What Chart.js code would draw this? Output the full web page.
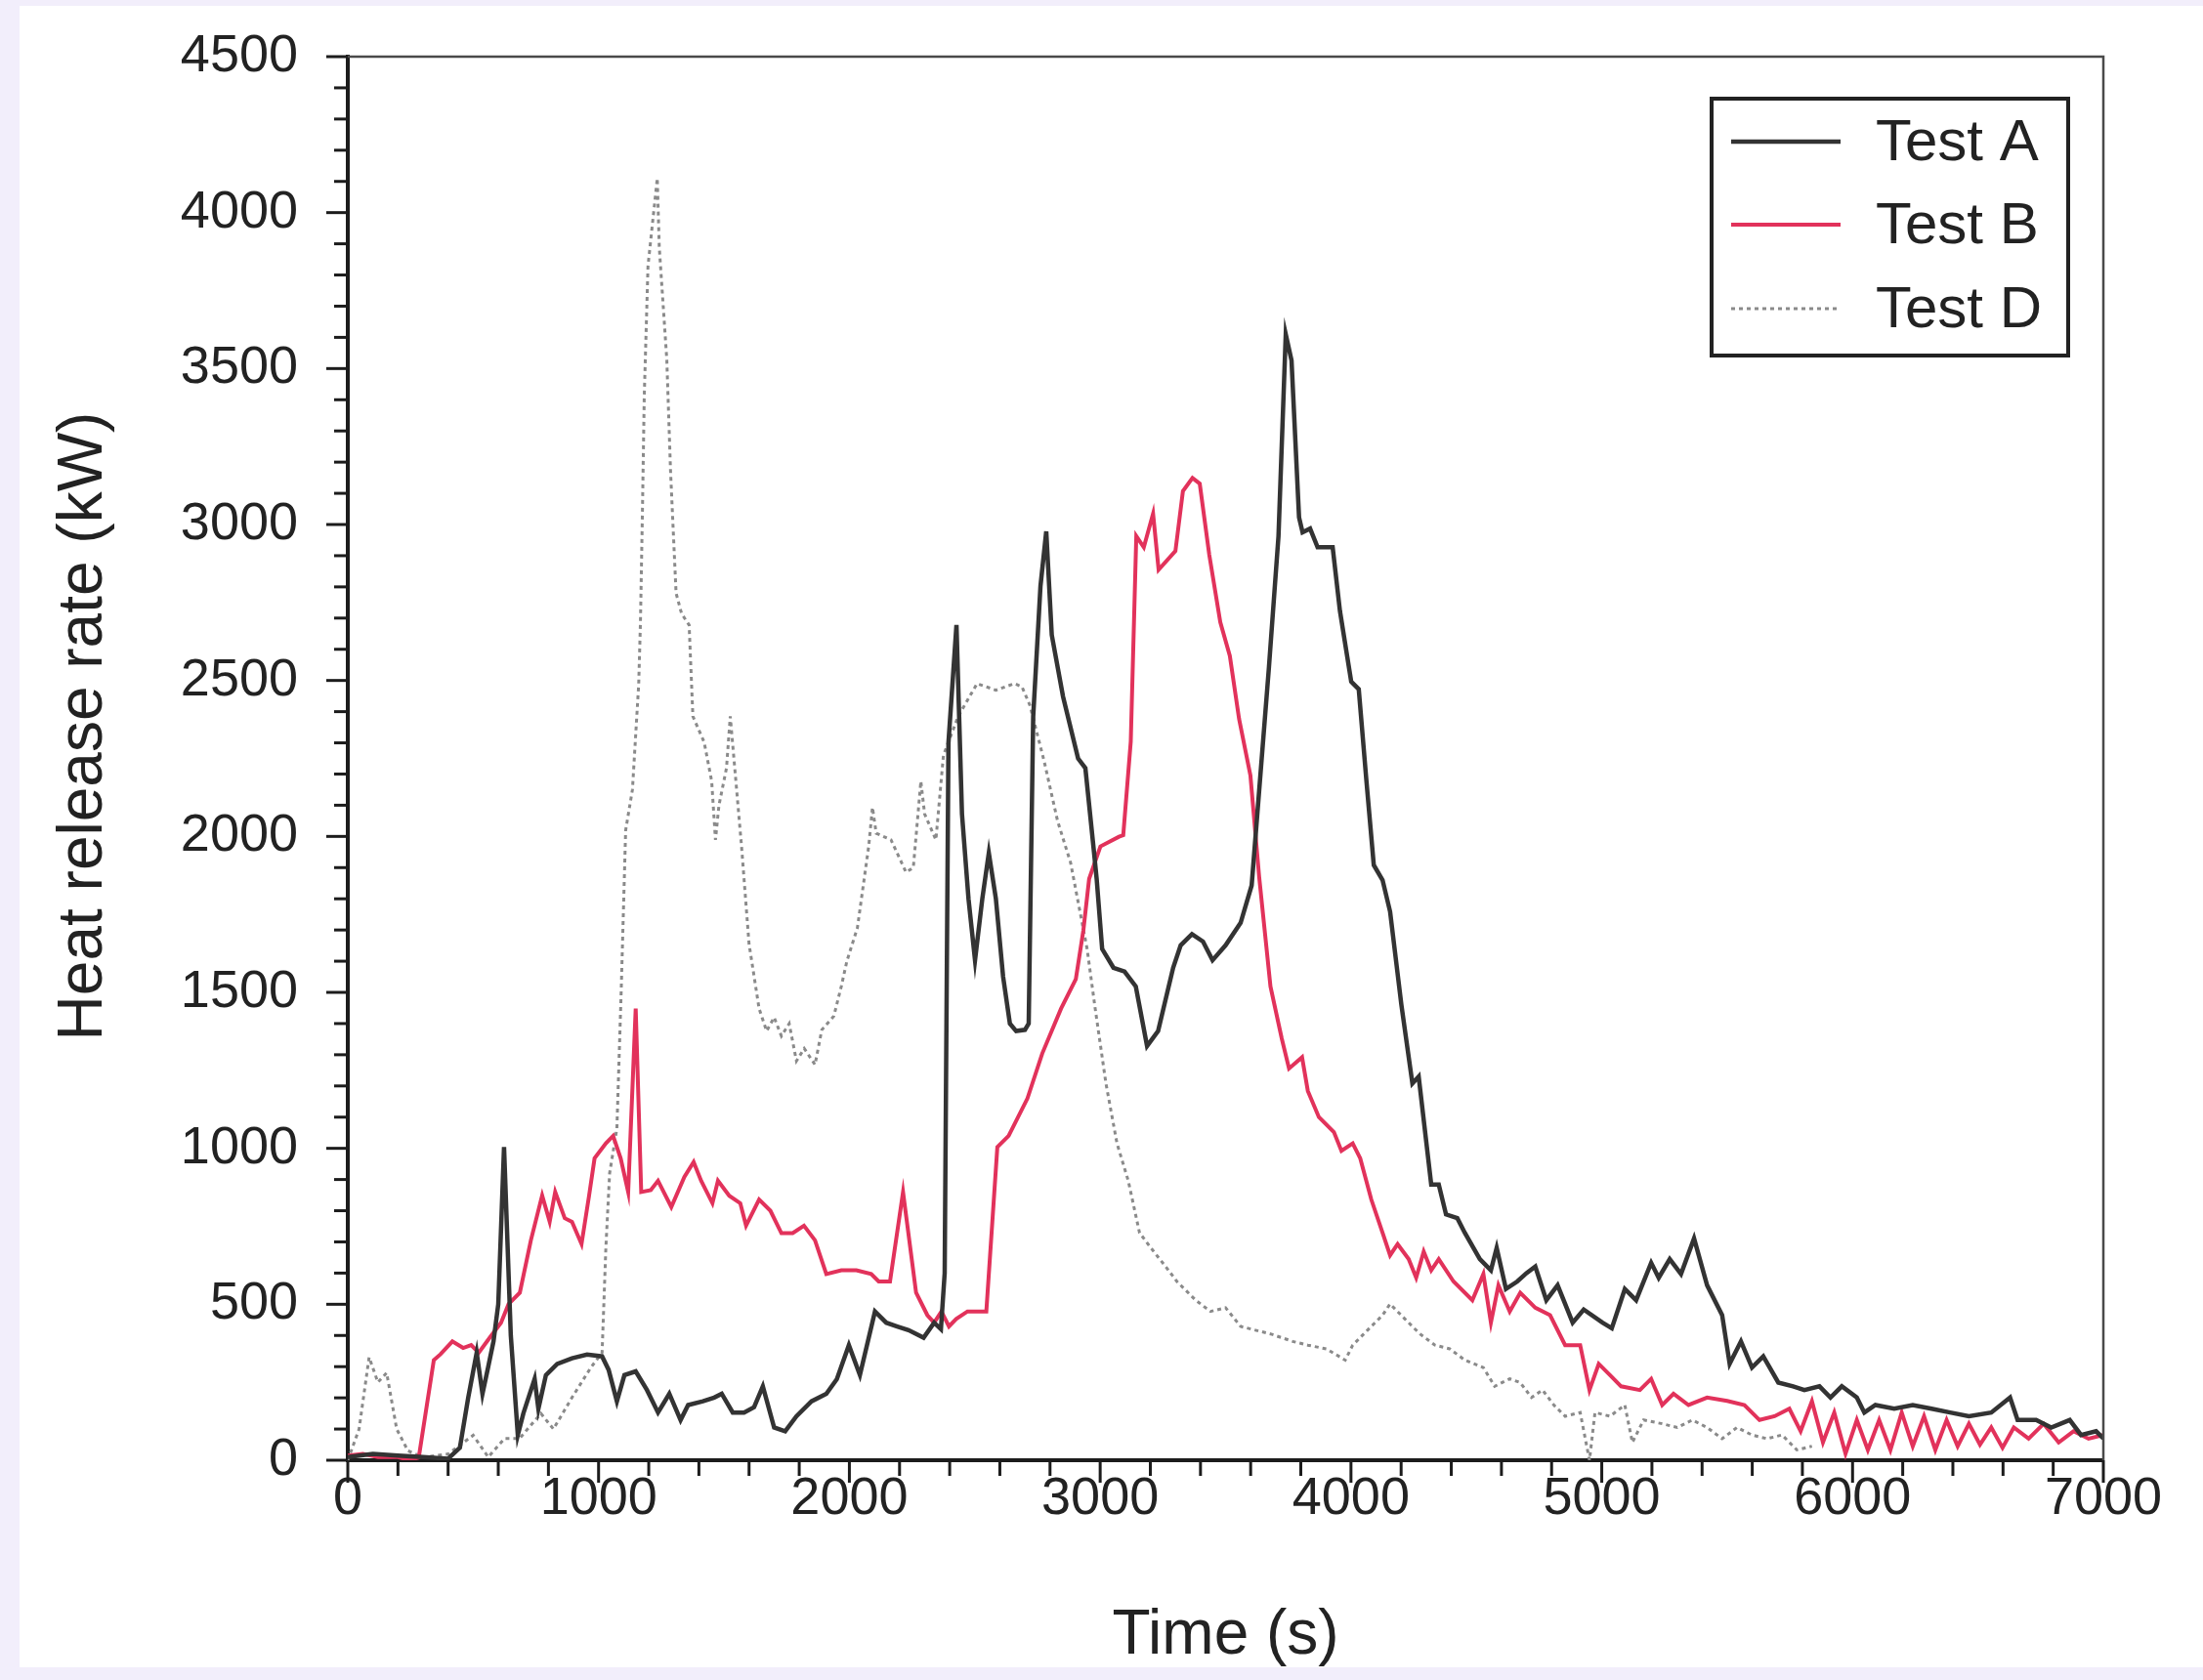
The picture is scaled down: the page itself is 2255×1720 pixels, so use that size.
<!DOCTYPE html>
<html>
<head>
<meta charset="utf-8">
<title>Heat release rate</title>
<script src="https://cdn.jsdelivr.net/npm/chart.js@4.4.1/dist/chart.umd.min.js"></script>
<style>
  html, body { margin: 0; padding: 0; background: #f2eefb; }
  #panel { position: absolute; left: 20px; top: 6px; width: 2235px; height: 1701px; background: #ffffff; }
  #wrap { position: absolute; left: 0; top: 0; width: 2255px; height: 1720px; }
</style>
</head>
<body>
<div id="panel"></div>
<div id="wrap"><canvas id="hrrChart" width="2255" height="1720"></canvas></div>
<script>
// time (s) / heat release rate (kW)
var timeA = [0, 100, 200, 300, 400, 447, 480, 514, 537, 560, 581, 600, 623, 650, 678, 700, 745, 760, 790, 835, 894, 954, 1014, 1040, 1073, 1103, 1148, 1193, 1237, 1282, 1327, 1357, 1416, 1461, 1491, 1535, 1580, 1620, 1655, 1700, 1744, 1789, 1849, 1908, 1950, 1998, 2042, 2102, 2147, 2191, 2236, 2296, 2338, 2365, 2380, 2395, 2427, 2449, 2475, 2501, 2530, 2556, 2584, 2613, 2640, 2665, 2700, 2715, 2733, 2762, 2785, 2807, 2852, 2912, 2941, 2973, 2986, 3008, 3053, 3097, 3142, 3187, 3231, 3291, 3321, 3366, 3410, 3448, 3500, 3560, 3604, 3614, 3673, 3711, 3740, 3763, 3793, 3807, 3837, 3867, 3927, 3956, 4001, 4031, 4061, 4091, 4126, 4156, 4201, 4245, 4270, 4320, 4350, 4379, 4424, 4454, 4514, 4558, 4581, 4618, 4663, 4700, 4735, 4779, 4824, 4884, 4928, 5003, 5040, 5092, 5137, 5197, 5227, 5271, 5316, 5368, 5420, 5480, 5510, 5555, 5599, 5644, 5704, 5763, 5808, 5868, 5912, 5957, 6017, 6047, 6091, 6166, 6240, 6315, 6389, 6464, 6553, 6628, 6658, 6732, 6792, 6866, 6911, 6971, 7000];
var hrrA = [10, 20, 15, 10, 5, 40, 200, 345, 213, 300, 381, 500, 1004, 400, 81, 150, 261, 165, 273, 309, 327, 339, 333, 290, 189, 273, 285, 225, 153, 213, 129, 177, 189, 201, 213, 153, 153, 170, 237, 105, 93, 141, 189, 213, 260, 369, 273, 477, 441, 429, 417, 393, 441, 420, 600, 2300, 2678, 2072, 1800, 1603, 1800, 1947, 1801, 1550, 1400, 1376, 1380, 1400, 2385, 2803, 2978, 2646, 2448, 2250, 2219, 1968, 1864, 1639, 1579, 1567, 1519, 1328, 1376, 1579, 1651, 1687, 1663, 1603, 1651, 1723, 1843, 1944, 2543, 2963, 3610, 3526, 3023, 2975, 2987, 2927, 2927, 2723, 2496, 2472, 2184, 1908, 1860, 1759, 1460, 1208, 1230, 884, 884, 788, 776, 729, 645, 609, 681, 549, 573, 600, 621, 513, 561, 441, 483, 441, 423, 549, 513, 633, 585, 645, 597, 711, 561, 465, 309, 381, 297, 333, 249, 237, 225, 237, 201, 237, 201, 153, 177, 165, 177, 165, 153, 141, 153, 201, 129, 129, 105, 129, 81, 93, 70];

var timeB = [0, 60, 120, 200, 250, 283, 343, 370, 417, 460, 492, 522, 566, 611, 641, 686, 730, 775, 805, 827, 865, 894, 932, 962, 984, 1029, 1058, 1088, 1118, 1148, 1170, 1208, 1237, 1290, 1342, 1379, 1409, 1454, 1476, 1521, 1565, 1588, 1640, 1685, 1729, 1774, 1819, 1863, 1908, 1968, 2028, 2087, 2117, 2162, 2214, 2266, 2311, 2338, 2367, 2397, 2426, 2471, 2546, 2590, 2635, 2710, 2769, 2844, 2903, 2933, 2956, 3001, 3075, 3092, 3122, 3144, 3174, 3211, 3233, 3300, 3330, 3368, 3397, 3435, 3479, 3517, 3554, 3599, 3634, 3679, 3724, 3753, 3805, 3828, 3872, 3932, 3962, 4007, 4037, 4081, 4126, 4156, 4186, 4230, 4260, 4290, 4320, 4350, 4409, 4484, 4528, 4558, 4588, 4633, 4675, 4735, 4794, 4854, 4914, 4951, 4988, 5033, 5077, 5152, 5197, 5241, 5286, 5346, 5420, 5500, 5569, 5629, 5689, 5748, 5793, 5838, 5882, 5927, 5972, 6017, 6061, 6106, 6151, 6196, 6240, 6285, 6330, 6375, 6419, 6464, 6508, 6553, 6598, 6643, 6702, 6762, 6822, 6881, 6941, 7000];
var hrrB = [15, 20, 10, 10, 0, 9, 321, 340, 381, 360, 369, 345, 393, 441, 501, 537, 705, 849, 765, 860, 776, 764, 693, 848, 968, 1016, 1040, 968, 860, 1448, 860, 866, 896, 812, 908, 956, 896, 824, 896, 848, 824, 752, 836, 800, 728, 728, 752, 705, 597, 609, 609, 597, 573, 573, 860, 537, 465, 441, 477, 429, 453, 477, 477, 1004, 1040, 1160, 1304, 1448, 1543, 1699, 1864, 1968, 1999, 2004, 2304, 2963, 2927, 3035, 2855, 2915, 3107, 3149, 3131, 2903, 2687, 2579, 2376, 2196, 1870, 1519, 1352, 1256, 1292, 1184, 1100, 1052, 992, 1016, 968, 836, 729, 657, 693, 645, 585, 669, 609, 645, 573, 513, 597, 441, 561, 477, 537, 489, 465, 369, 369, 225, 309, 273, 237, 225, 261, 177, 213, 177, 201, 190, 177, 129, 141, 165, 93, 189, 57, 153, 21, 129, 33, 129, 33, 153, 45, 141, 33, 129, 45, 117, 50, 105, 40, 105, 69, 117, 57, 93, 69, 81];

var timeD = [0, 45, 85, 120, 155, 195, 240, 300, 400, 500, 560, 625, 685, 770, 820, 894, 969, 1014, 1029, 1044, 1073, 1090, 1108, 1135, 1160, 1167, 1175, 1182, 1197, 1234, 1242, 1272, 1287, 1309, 1331, 1361, 1376, 1421, 1451, 1466, 1480, 1510, 1525, 1545, 1570, 1600, 1640, 1670, 1700, 1729, 1760, 1789, 1820, 1863, 1890, 1938, 1968, 1990, 2032, 2077, 2092, 2107, 2166, 2226, 2255, 2285, 2300, 2345, 2375, 2434, 2509, 2584, 2658, 2688, 2720, 2777, 2830, 2882, 2948, 2978, 3023, 3067, 3112, 3157, 3202, 3261, 3306, 3381, 3440, 3500, 3560, 3619, 3679, 3768, 3828, 3902, 3977, 4007, 4066, 4126, 4156, 4215, 4275, 4335, 4394, 4454, 4528, 4573, 4633, 4675, 4720, 4764, 4809, 4854, 4914, 4951, 4973, 5033, 5092, 5122, 5167, 5241, 5301, 5361, 5420, 5480, 5539, 5599, 5659, 5719, 5778, 5838];
var hrrD = [0, 100, 330, 250, 280, 100, 30, 10, 20, 80, 10, 70, 70, 150, 100, 201, 297, 345, 681, 920, 1064, 1500, 2020, 2150, 2489, 2690, 3050, 3409, 3829, 4110, 3889, 3529, 3170, 2780, 2714, 2678, 2385, 2302, 2177, 1989, 2100, 2219, 2385, 2200, 1968, 1655, 1448, 1376, 1420, 1360, 1400, 1280, 1320, 1268, 1380, 1424, 1520, 1600, 1707, 1968, 2093, 2010, 1989, 1885, 1900, 2177, 2072, 1989, 2260, 2385, 2490, 2469, 2490, 2480, 2420, 2240, 2050, 1916, 1639, 1460, 1208, 1016, 896, 729, 681, 621, 573, 513, 477, 489, 429, 417, 405, 381, 369, 357, 321, 369, 417, 465, 501, 453, 405, 369, 357, 321, 297, 237, 261, 249, 201, 225, 177, 141, 153, 0, 153, 141, 177, 57, 129, 117, 105, 129, 105, 69, 105, 81, 69, 81, 33, 45];

var xTicks = [0, 1000, 2000, 3000, 4000, 5000, 6000, 7000];
var yTicks = [0, 500, 1000, 1500, 2000, 2500, 3000, 3500, 4000, 4500];

var fonte = "'Liberation Sans', Arial, Helvetica, sans-serif";

function pontos(t, v) {
  var out = [];
  for (var i = 0; i < t.length; i++) {
    out.push({ x: t[i], y: v[i] });
  }
  return out;
}

// minor/major tick marks pointing outward + thin top/right frame
var marcas = {
  id: "marcas",
  afterDraw: function (chart) {
    var ctx = chart.ctx;
    var area = chart.chartArea;
    var xs = chart.scales.x;
    var ys = chart.scales.y;
    ctx.save();
    ctx.strokeStyle = "#1c1c1c";
    ctx.lineWidth = 3;
    xs.ticks.forEach(function (t) {
      var px = xs.getPixelForValue(t.value);
      var len = xTicks.indexOf(t.value) >= 0 ? 23 : 16;
      ctx.beginPath();
      ctx.moveTo(px, area.bottom);
      ctx.lineTo(px, area.bottom + len);
      ctx.stroke();
    });
    ys.ticks.forEach(function (t) {
      var py = ys.getPixelForValue(t.value);
      var len = yTicks.indexOf(t.value) >= 0 ? 22 : 14;
      ctx.beginPath();
      ctx.moveTo(area.left, py);
      ctx.lineTo(area.left - len, py);
      ctx.stroke();
    });
    ctx.strokeStyle = "#4a4a4a";
    ctx.lineWidth = 2.5;
    ctx.beginPath();
    ctx.moveTo(area.left, area.top);
    ctx.lineTo(area.right, area.top);
    ctx.lineTo(area.right, area.bottom);
    ctx.stroke();

    // y axis title
    ctx.fillStyle = "#222";
    ctx.font = "64px " + fonte;
    ctx.textAlign = "center";
    ctx.textBaseline = "middle";
    ctx.translate(86, (area.top + area.bottom) / 2 - 33);
    ctx.rotate(-Math.PI / 2);
    ctx.fillText("Heat release rate (kW)", 0, 0);
    ctx.restore();
  }
};

// boxed legend in the top right corner of the plot
var legenda = {
  id: "legenda",
  afterDraw: function (chart) {
    var ctx = chart.ctx;
    var area = chart.chartArea;
    var bx = area.right - 401;
    var by = area.top + 43;
    var linhas = [44, 129, 215];
    ctx.save();
    ctx.fillStyle = "#ffffff";
    ctx.fillRect(bx, by, 365, 263);
    ctx.strokeStyle = "#222";
    ctx.lineWidth = 4;
    ctx.strokeRect(bx, by, 365, 263);
    chart.data.datasets.forEach(function (ds, i) {
      var y = by + linhas[i];
      ctx.strokeStyle = ds.borderColor;
      ctx.lineWidth = ds.borderWidth;
      ctx.setLineDash(ds.borderDash || []);
      ctx.beginPath();
      ctx.moveTo(bx + 20, y);
      ctx.lineTo(bx + 132, y);
      ctx.stroke();
      ctx.setLineDash([]);
      ctx.fillStyle = "#222";
      ctx.font = "60px " + fonte;
      ctx.textAlign = "left";
      ctx.textBaseline = "middle";
      ctx.fillText(ds.label, bx + 168, y + 2);
    });
    ctx.restore();
  }
};

var config = {
  type: "line",
  data: {
    datasets: [
      {
        label: "Test A",
        data: pontos(timeA, hrrA),
        borderColor: "#333333",
        borderWidth: 4.5,
        pointRadius: 0,
        tension: 0,
        order: 1
      },
      {
        label: "Test B",
        data: pontos(timeB, hrrB),
        borderColor: "#e2325b",
        borderWidth: 4,
        pointRadius: 0,
        tension: 0,
        order: 2
      },
      {
        label: "Test D",
        data: pontos(timeD, hrrD),
        borderColor: "#8a8a8a",
        borderWidth: 3,
        borderDash: [4, 4],
        pointRadius: 0,
        tension: 0,
        order: 3
      }
    ]
  },
  options: {
    responsive: false,
    animation: false,
    layout: { padding: { top: 58, right: 102, left: 0, bottom: 0 } },
    plugins: {
      legend: { display: false },
      tooltip: { enabled: false }
    },
    scales: {
      x: {
        type: "linear",
        min: 0,
        max: 7000,
        grid: { display: true, drawOnChartArea: false, drawTicks: true, tickLength: 8, tickColor: "rgba(0,0,0,0)" },
        border: { color: "#1c1c1c", width: 4 },
        ticks: {
          stepSize: 200,
          autoSkip: false,
          maxRotation: 0,
          padding: 0,
          color: "#222",
          font: { family: fonte, size: 54 },
          callback: function (v) {
            return xTicks.indexOf(v) >= 0 ? String(v) : "";
          }
        },
        title: {
          display: true,
          text: "Time (s)",
          color: "#222",
          font: { family: fonte, size: 64 },
          padding: { top: 0, bottom: 6 }
        },
        afterFit: function (s) {
          s.height = 225;
        }
      },
      y: {
        min: 0,
        max: 4500,
        grid: { display: true, drawOnChartArea: false, drawTicks: true, tickLength: 51, tickColor: "rgba(0,0,0,0)" },
        border: { color: "#1c1c1c", width: 4 },
        ticks: {
          stepSize: 100,
          autoSkip: false,
          padding: 0,
          color: "#222",
          font: { family: fonte, size: 54 },
          callback: function (v) {
            return yTicks.indexOf(v) >= 0 ? String(v) : "";
          }
        },
        afterFit: function (s) {
          s.width = 356;
        }
      }
    }
  },
  plugins: [marcas, legenda]
};

var grafico = new Chart(document.getElementById("hrrChart"), config);
</script>
</body>
</html>
